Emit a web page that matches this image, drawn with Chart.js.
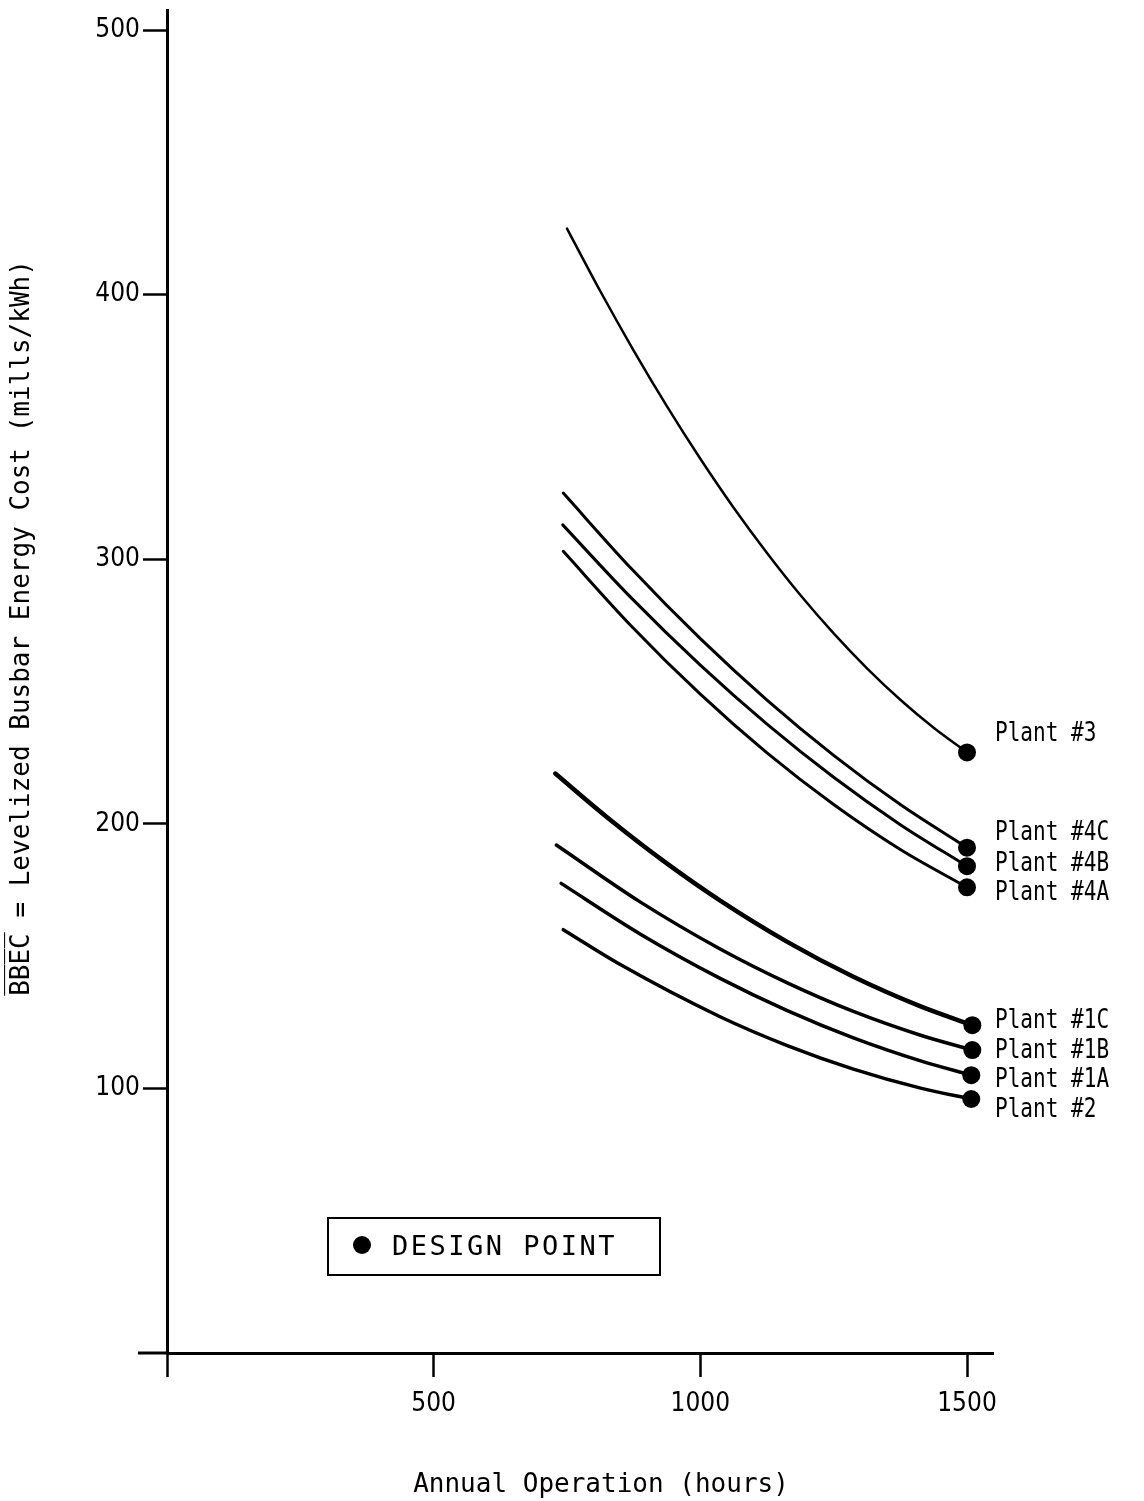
<!DOCTYPE html>
<html><head><meta charset="utf-8">
<script src="https://cdn.jsdelivr.net/npm/chart.js@4.4.0/dist/chart.umd.min.js"></script>
<style>html,body{margin:0;padding:0;background:#fff;}canvas{display:block;}</style>
</head><body>
<canvas id="c" width="1144" height="1501"></canvas>
<script>
// ---- data ----
const seriesNames = ['Plant #3','Plant #4C','Plant #4B','Plant #4A','Plant #1C','Plant #1B','Plant #1A','Plant #2'];
const plant3Hours  = [750, 812.5, 875, 937.5, 1000, 1062.5, 1125, 1187.5, 1250, 1312.5, 1375, 1437.5, 1500];
const plant3Cost   = [425, 401.3, 378.9, 357.8, 338, 319.5, 302.4, 286.5, 272, 258.8, 246.9, 236.3, 227];
const plant4CHours = [743, 870, 1000, 1125, 1250, 1375, 1500];
const plant4CCost  = [325, 296.6, 270, 246.8, 225.9, 207.3, 191];
const plant4BHours = [742, 870, 1000, 1125, 1250, 1375, 1500];
const plant4BCost  = [313, 285.5, 260, 237.7, 217.6, 199.7, 184];
const plant4AHours = [743, 870, 1000, 1125, 1250, 1375, 1500];
const plant4ACost  = [303, 274.9, 249, 226.8, 207.3, 190.3, 176];
const plant1CHours = [728, 825, 930, 1038, 1163, 1287, 1413, 1510];
const plant1CCost  = [219, 202.5, 186.1, 170.9, 155.4, 142.2, 131, 123.9];
const plant1BHours = [730, 887, 1038, 1163, 1287, 1413, 1510];
const plant1BCost  = [192, 170.5, 152.6, 139.9, 129.1, 120.1, 114.5];
const plant1AHours = [739, 887, 1038, 1163, 1287, 1413, 1508];
const plant1ACost  = [177.5, 158.4, 141.5, 129.4, 119.1, 110.4, 105];
const plant2Hours  = [743, 850, 1038, 1163, 1287, 1413, 1508];
const plant2Cost   = [160, 146.8, 127, 116.2, 107.3, 100.1, 96];
const xTickValues = [0, 500, 1000, 1500];
const yTickValues = [100, 200, 300, 400, 500];
const labelCost = [234, 196.5, 185, 174, 125.5, 114, 103, 92]; // where each plant name sits
const legendText = 'DESIGN POINT';
const xTitle = 'Annual Operation (hours)';
const yTitle = 'B\u0305B\u0305E\u0305C\u0305 = Levelized Busbar Energy Cost (mills/kWh)';

// ---- styling ----
const hoursList = [plant3Hours, plant4CHours, plant4BHours, plant4AHours, plant1CHours, plant1BHours, plant1AHours, plant2Hours];
const costList  = [plant3Cost, plant4CCost, plant4BCost, plant4ACost, plant1CCost, plant1BCost, plant1ACost, plant2Cost];
const widths = [2.5, 3, 3, 3, 4.5, 3.5, 3.5, 3.5];

const datasets = seriesNames.map((name, i) => ({
  label: name,
  data: hoursList[i].map((h, k) => ({x: h, y: costList[i][k]})),
  borderColor: '#000',
  backgroundColor: '#000',
  borderWidth: widths[i],
  cubicInterpolationMode: 'monotone',
  pointRadius: hoursList[i].map((h, k) => k === hoursList[i].length - 1 ? 9 : 0),
  pointBackgroundColor: '#000',
  pointBorderWidth: 0,
  borderCapStyle: 'round',
  clip: false
}));

const decor = {
  id: 'decor',
  beforeDraw(chart) {
    const ctx = chart.ctx;
    ctx.save(); ctx.fillStyle = '#fff'; ctx.fillRect(0, 0, chart.width, chart.height); ctx.restore();
  },
  afterDraw(chart) {
    const {ctx, chartArea, scales: {x, y}} = chart;
    ctx.save();
    ctx.strokeStyle = '#000'; ctx.fillStyle = '#000';
    // x-axis line continues a little left of the y axis
    ctx.lineWidth = 3;
    ctx.beginPath(); ctx.moveTo(chartArea.left - 29, chartArea.bottom); ctx.lineTo(chartArea.left, chartArea.bottom); ctx.stroke();
    // plant labels
    const lx = x.getPixelForValue(1500) + 28;
    seriesNames.forEach((n, i) => {
      ctx.save();
      ctx.translate(lx, y.getPixelForValue(labelCost[i]));
      ctx.scale(0.78, 1);
      ctx.font = '27px "DejaVu Sans Mono"';
      ctx.textBaseline = 'middle'; ctx.textAlign = 'left';
      ctx.fillText(n, 0, 0);
      ctx.restore();
    });
    // legend box
    ctx.lineWidth = 2;
    ctx.strokeRect(328, 1218, 332, 57);
    ctx.beginPath(); ctx.arc(362, 1245, 9, 0, Math.PI * 2); ctx.fill();
    ctx.font = '27px "DejaVu Sans Mono"';
    ctx.letterSpacing = '2.5px';
    ctx.textBaseline = 'middle'; ctx.textAlign = 'left';
    ctx.fillText(legendText, 392, 1248);
    ctx.letterSpacing = '0px';
    // axis titles
    ctx.font = '26px "DejaVu Sans Mono"';
    ctx.textAlign = 'center';
    ctx.fillText(xTitle, 601, 1485);
    ctx.save();
    ctx.translate(22, 628); ctx.rotate(-Math.PI / 2);
    ctx.fillText(yTitle, 0, 0);
    ctx.restore();
    ctx.restore();
  }
};

new Chart(document.getElementById('c'), {
  type: 'line',
  data: {datasets},
  options: {
    responsive: false,
    devicePixelRatio: 1,
    animation: false,
    events: [],
    layout: {padding: {left: 6, right: 151, top: 10, bottom: 0}},
    plugins: {legend: {display: false}, tooltip: {enabled: false}},
    scales: {
      x: {
        type: 'linear', position: 'bottom',
        min: 0, max: 1548.75,
        afterBuildTicks: s => { s.ticks = xTickValues.map(v => ({value: v})); },
        afterFit: s => { s.height = 148; s.paddingLeft = 0; s.paddingRight = 0; },
        ticks: {
          callback: v => v === 0 ? '' : String(v),
          color: '#000', padding: 12, maxRotation: 0, autoSkip: false,
          font: {family: '"DejaVu Sans Condensed", "DejaVu Sans"', size: 26}
        },
        grid: {drawOnChartArea: false, drawTicks: true, tickLength: 24, tickWidth: 2.5, tickColor: '#000'},
        border: {display: true, color: '#000', width: 3}
      },
      y: {
        type: 'linear', position: 'left',
        min: 0, max: 507.6,
        afterBuildTicks: s => { s.ticks = yTickValues.map(v => ({value: v})); },
        afterFit: s => { s.width = 161; s.paddingTop = 0; s.paddingBottom = 0; },
        ticks: {
          color: '#000', padding: 3, autoSkip: false,
          font: {family: '"DejaVu Sans Condensed", "DejaVu Sans"', size: 26}
        },
        grid: {drawOnChartArea: false, drawTicks: true, tickLength: 24, tickWidth: 2.5, tickColor: '#000'},
        border: {display: true, color: '#000', width: 3}
      }
    }
  },
  plugins: [decor]
});
</script>
</body></html>
